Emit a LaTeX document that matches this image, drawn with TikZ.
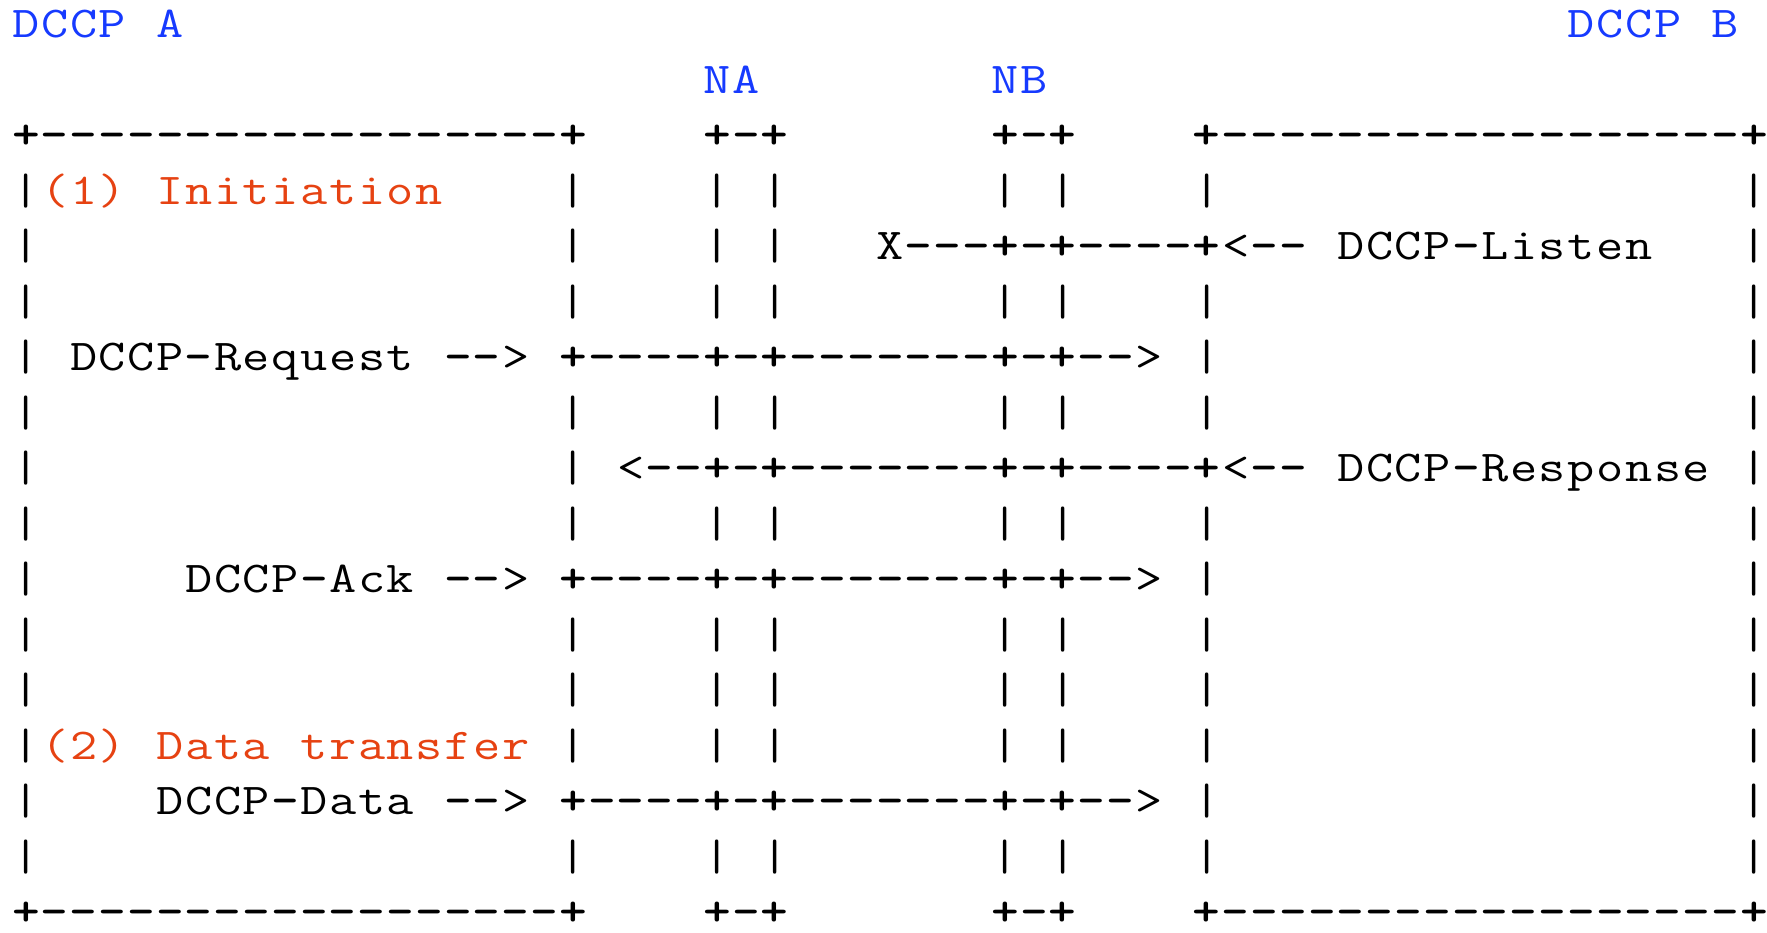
\documentclass[tikz,border=0pt]{standalone}
\usepackage{xcolor}
\usepackage{graphicx}
\definecolor{labelblue}{RGB}{22,58,255}
\definecolor{phaseorange}{RGB}{230,66,18}
% width of one character cell of the ASCII grid
\newlength\cellw
\setlength\cellw{14.4pt}
\ExplSyntaxOn
% one glyph, widened a little to fill its cell; plus and minus signs heavier
\cs_new_protected:Npn \__ascii_glyph:n #1
  {
    \str_case:nnF {#1}
      {
        {+} { \bfseries + }
        {-} { \bfseries - }
      }
      { #1 }
  }
% set a run of characters, one fixed-width cell per character
\NewDocumentCommand\monorun{m}{\tl_map_inline:nn {#1}
  {\makebox[\cellw][c]{\scalebox{1.2}[1]{\__ascii_glyph:n {##1}}}}}
\ExplSyntaxOff
% \putrun[colour]{row}{column}{characters}
\newcommand\putrun[4][black]{%
  \node[run,text=#1,name=r#2c#3] at ({11.6+28.8*#3},{37.5+55.5*#2}) {\monorun{#4}};}
% the vertical rules of a plain row
\newcommand\bars[1]{%
  \putrun{#1}{0}{|}\putrun{#1}{19}{|}\putrun{#1}{24}{|~|}%
  \putrun{#1}{34}{|~|}\putrun{#1}{41}{|}\putrun{#1}{60}{|}}
% the horizontal edges of the boxes
\newcommand\edges[1]{%
  \putrun{#1}{0}{+------------------+}\putrun{#1}{24}{+-+}%
  \putrun{#1}{34}{+-+}\putrun{#1}{41}{+------------------+}}
\begin{document}
\begin{tikzpicture}[x=0.5pt,y=-0.5pt,
  run/.style={inner sep=0pt,outer sep=0pt,anchor=base west,
    font=\fontsize{22}{26}\selectfont\ttfamily}]
\useasboundingbox (0,0) rectangle (1767,932);
% endpoints and middleboxes
\putrun[labelblue]{0}{0}{DCCP~A}
\putrun[labelblue]{0}{54}{DCCP~B}
\putrun[labelblue]{1}{24}{NA}
\putrun[labelblue]{1}{34}{NB}
\edges{2}
% phase 1
\putrun{3}{0}{|}\putrun[phaseorange]{3}{1}{(1)~Initiation}
\putrun{3}{19}{|}\putrun{3}{24}{|~|}\putrun{3}{34}{|~|}\putrun{3}{41}{|}\putrun{3}{60}{|}
\putrun{4}{0}{|}\putrun{4}{19}{|}\putrun{4}{24}{|~|}
\putrun{4}{30}{X---+-+----+<--~DCCP-Listen}\putrun{4}{60}{|}
\bars{5}
\putrun{6}{0}{|}\putrun{6}{2}{DCCP-Request~-->~+----+-+-------+-+-->}
\putrun{6}{41}{|}\putrun{6}{60}{|}
\bars{7}
\putrun{8}{0}{|}\putrun{8}{19}{|}
\putrun{8}{21}{<--+-+-------+-+----+<--~DCCP-Response}\putrun{8}{60}{|}
\bars{9}
\putrun{10}{0}{|}\putrun{10}{6}{DCCP-Ack~-->~+----+-+-------+-+-->}
\putrun{10}{41}{|}\putrun{10}{60}{|}
\bars{11}
\bars{12}
% phase 2
\putrun{13}{0}{|}\putrun[phaseorange]{13}{1}{(2)~Data~transfer}
\putrun{13}{19}{|}\putrun{13}{24}{|~|}\putrun{13}{34}{|~|}\putrun{13}{41}{|}\putrun{13}{60}{|}
\putrun{14}{0}{|}\putrun{14}{5}{DCCP-Data~-->~+----+-+-------+-+-->}
\putrun{14}{41}{|}\putrun{14}{60}{|}
\bars{15}
\edges{16}
\end{tikzpicture}
\end{document}
